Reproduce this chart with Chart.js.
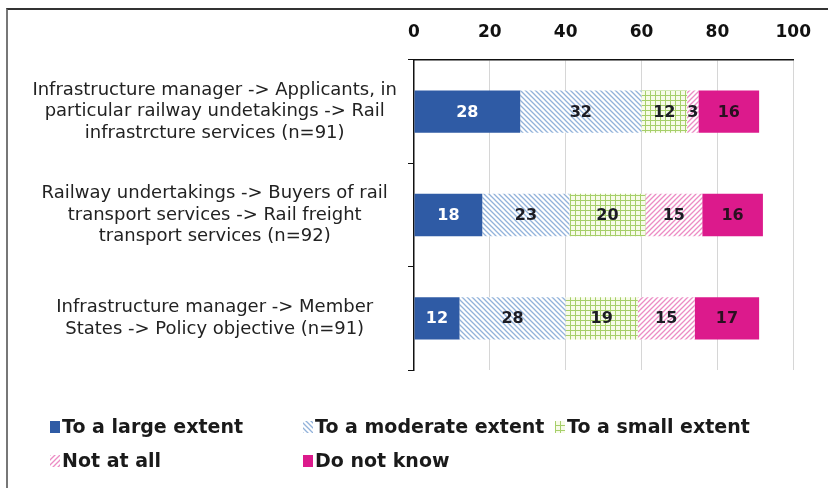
<!DOCTYPE html>
<html>
<head>
<meta charset="utf-8">
<script src="https://cdn.jsdelivr.net/npm/chart.js@4/dist/chart.umd.min.js"></script>
<style>
  html,body{margin:0;padding:0;background:#fff;}
  #wrap{position:relative;width:828px;height:488px;overflow:hidden;}
  #frame{position:absolute;left:6px;top:8px;width:840px;height:500px;border-top:2px solid #333;border-left:2px solid #777;pointer-events:none;}
  canvas{position:absolute;left:0;top:0;}
</style>
</head>
<body>
<div id="wrap">
  <canvas id="c" width="828" height="488"></canvas>
  <div id="frame"></div>
</div>
<script>
// ---- data ----
const categories = [
  ["Infrastructure manager -> Applicants, in", "particular railway undetakings -> Rail", "infrastrcture services (n=91)"],
  ["Railway undertakings -> Buyers of rail", "transport services -> Rail freight", "transport services (n=92)"],
  ["Infrastructure manager -> Member", "States -> Policy objective (n=91)"]
];
const seriesNames = ["To a large extent", "To a moderate extent", "To a small extent", "Not at all", "Do not know"];
const largeExtent    = [28, 18, 12];
const moderateExtent = [32, 23, 28];
const smallExtent    = [12, 20, 19];
const notAtAll       = [3, 15, 15];
const doNotKnow      = [16, 16, 17];
const xTicks = [0, 20, 40, 60, 80, 100];

// ---- patterns ----
function stripePattern(bg, fg, dir, size) {
  const c = document.createElement('canvas');
  c.width = c.height = size;
  const x = c.getContext('2d');
  x.fillStyle = bg; x.fillRect(0, 0, size, size);
  x.strokeStyle = fg; x.lineWidth = 1.3;
  x.beginPath();
  if (dir === 'back') {
    x.moveTo(0, 0); x.lineTo(size, size);
    x.moveTo(-1, size - 1); x.lineTo(1, size + 1);
    x.moveTo(size - 1, -1); x.lineTo(size + 1, 1);
  } else {
    x.moveTo(0, size); x.lineTo(size, 0);
    x.moveTo(-1, 1); x.lineTo(1, -1);
    x.moveTo(size - 1, size + 1); x.lineTo(size + 1, size - 1);
  }
  x.stroke();
  return x.createPattern(c, 'repeat');
}
function gridPattern(bg, fg, size) {
  const c = document.createElement('canvas');
  c.width = c.height = size;
  const x = c.getContext('2d');
  x.fillStyle = bg; x.fillRect(0, 0, size, size);
  x.fillStyle = fg;
  x.fillRect(0, 0, size, 1);
  x.fillRect(0, 0, 1, size);
  return x.createPattern(c, 'repeat');
}

const fills = [
  '#2F5BA5',
  stripePattern('#ffffff', '#92B2DA', 'back', 5),
  gridPattern('#F7FBE8', '#A6CF6A', 5),
  stripePattern('#ffffff', '#EC8CC4', 'fwd', 5),
  '#DC1A8C'
];
const labelColors = ['#ffffff', '#1c1c24', '#1c1c24', '#1c1c24', '#2a1020'];
const seriesData = [largeExtent, moderateExtent, smallExtent, notAtAll, doNotKnow];

const datasets = seriesNames.map((n, i) => ({
  label: n,
  data: seriesData[i],
  backgroundColor: fills[i],
  borderWidth: 0,
  categoryPercentage: 1,
  barPercentage: 0.41
}));

// ---- value labels plugin ----
const valueLabels = {
  id: 'valueLabels',
  afterDatasetsDraw(chart) {
    const ctx = chart.ctx;
    ctx.save();
    ctx.font = 'bold 16px "DejaVu Sans"';
    ctx.textAlign = 'center';
    ctx.textBaseline = 'middle';
    chart.data.datasets.forEach((ds, di) => {
      const meta = chart.getDatasetMeta(di);
      meta.data.forEach((bar, i) => {
        const v = ds.data[i];
        const cx = (bar.x + bar.base) / 2;
        ctx.fillStyle = labelColors[di];
        ctx.fillText(String(v), cx, bar.y + 1);
      });
    });
    ctx.restore();
  }
};

// ---- legend plugin (grid layout) ----
const gridLegend = {
  id: 'gridLegend',
  afterDraw(chart) {
    const ctx = chart.ctx;
    const cols = [50, 303, 555];
    const rows = [427, 461];
    ctx.save();
    ctx.font = 'bold 19px "DejaVu Sans"';
    ctx.textBaseline = 'middle';
    ctx.textAlign = 'left';
    chart.data.datasets.forEach((ds, i) => {
      const x = cols[i % 3];
      const y = rows[Math.floor(i / 3)];
      ctx.fillStyle = ds.backgroundColor;
      ctx.fillRect(x, y - 6, 10, 12);
      ctx.fillStyle = '#1a1a1a';
      ctx.fillText(ds.label, x + 12, y + 1);
    });
    ctx.restore();
  }
};

new Chart(document.getElementById('c'), {
  type: 'bar',
  data: { labels: categories, datasets },
  options: {
    indexAxis: 'y',
    responsive: false,
    animation: false,
    devicePixelRatio: 1,
    layout: { padding: { top: 0, right: 34, bottom: 118, left: 0 } },
    plugins: { legend: { display: false }, tooltip: { enabled: false } },
    scales: {
      x: {
        position: 'top',
        stacked: true,
        min: 0, max: 100,
        afterBuildTicks(scale) { scale.ticks = xTicks.map(v => ({ value: v })); },
        afterFit(scale) { scale.height = 60; },
        ticks: { font: { family: 'DejaVu Sans', size: 17, weight: 'bold' }, color: '#111', padding: 17 },
        grid: {
          drawTicks: false,
          color: (c) => (c.tick && c.tick.value === 0) ? 'rgba(0,0,0,0)' : '#d6d6d6',
          lineWidth: 1
        },
        border: { color: '#111', width: 1.5 }
      },
      y: {
        stacked: true,
        afterFit(scale) { scale.width = 414; },
        ticks: {
          font: { family: 'DejaVu Sans', size: 18, lineHeight: 1.2 },
          color: '#222',
          crossAlign: 'center',
          padding: 11
        },
        grid: { drawOnChartArea: false, offset: true, tickLength: 6, color: '#111' },
        border: { color: '#111', width: 1.5 }
      }
    }
  },
  plugins: [valueLabels, gridLegend]
});
</script>
</body>
</html>
